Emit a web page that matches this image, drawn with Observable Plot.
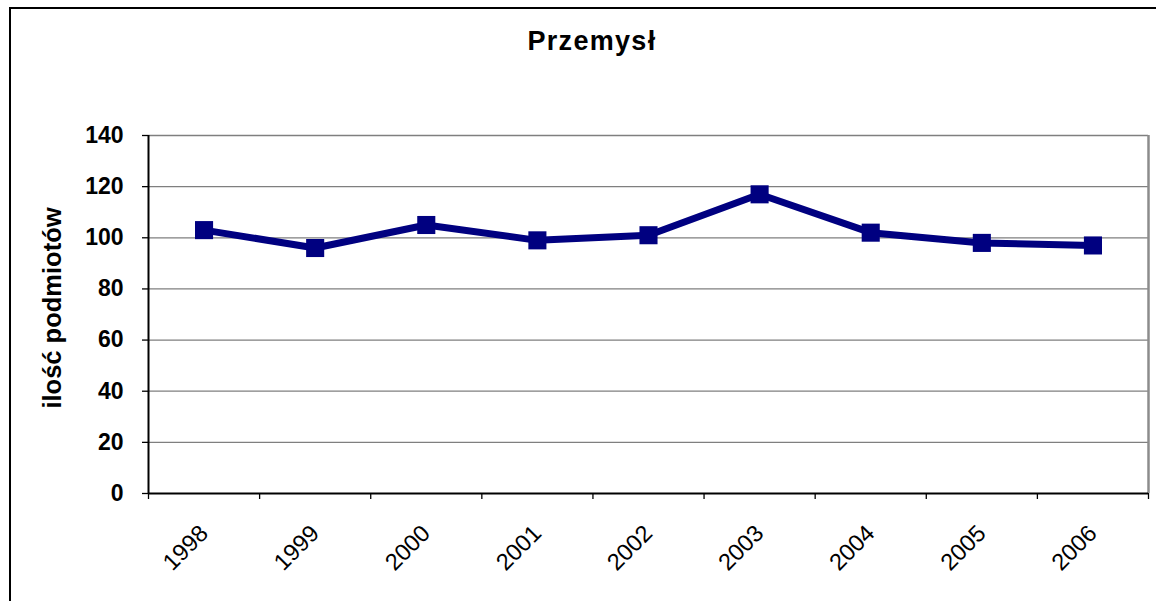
<!DOCTYPE html>
<html>
<head>
<meta charset="utf-8">
<script src="https://cdn.jsdelivr.net/npm/d3@7"></script>
<script src="https://cdn.jsdelivr.net/npm/@observablehq/plot@0.6"></script>
<style>
  html, body { margin: 0; padding: 0; background: #fff; }
  #wrap { position: relative; width: 1156px; height: 601px; overflow: hidden; font-family: "Liberation Sans", Arial, sans-serif; }
  #border { position: absolute; left: 9px; top: 7px; width: 1300px; height: 800px; border-left: 2px solid #000; border-top: 2px solid #000; box-sizing: border-box; }
  #title { position: relative; height: 100px; }
  #title span { position: absolute; left: 592px; top: 28px; transform: translateX(-50%); font-weight: bold; font-size: 27px; line-height: 27px; letter-spacing: 1.3px; white-space: nowrap; }
  #chart { position: relative; }
  svg { overflow: visible; }
</style>
</head>
<body>
<div id="wrap">
  <div id="border"></div>
  <div id="title"><span id="titleText"></span></div>
  <div id="chart"></div>
</div>
<script>
const title = "Przemysł";
const yLabel = "ilość podmiotów";
const years = ["1998", "1999", "2000", "2001", "2002", "2003", "2004", "2005", "2006"];
const values = [103, 96, 105, 99, 101, 117, 102, 98, 97];
const yTicks = [0, 20, 40, 60, 80, 100, 120, 140];

document.getElementById("titleText").textContent = title;

const data = years.map((year, i) => ({year, i, value: values[i]}));
const centers = years.map((_, i) => i + 0.5);
const bounds = d3.range(years.length + 1);
const yMax = yTicks[yTicks.length - 1];

const plot = Plot.plot({
  width: 1156,
  height: 501,
  marginTop: 35,
  marginBottom: 108,
  marginLeft: 148,
  marginRight: 8,
  style: {fontFamily: "'Liberation Sans', Arial, sans-serif", background: "transparent", overflow: "visible"},
  x: {domain: [0, years.length]},
  y: {domain: [0, yMax]},
  marks: [
    Plot.ruleY(yTicks.filter(t => t > 0), {stroke: "#7f7f7f", strokeWidth: 1.3}),
    Plot.ruleX([years.length], {stroke: "#8c8c8c", strokeWidth: 2.5}),
    Plot.axisY({ticks: yTicks, tickSize: 6, tickPadding: 19, tickFormat: d => String(d), fontSize: 23, fontWeight: "bold", stroke: "#000", strokeWidth: 1.3, color: "#000", label: null}),
    Plot.axisX({ticks: bounds, tickSize: 6, tickFormat: () => "", stroke: "#000", strokeWidth: 1.3, label: null}),
    Plot.axisX({ticks: centers, tickSize: 0, tickPadding: 36, tickRotate: -45, tickFormat: d => years[Math.floor(d)], fontSize: 23.5, color: "#000", label: null}),
    Plot.ruleY([0], {stroke: "#000", strokeWidth: 2}),
    Plot.ruleX([0], {stroke: "#000", strokeWidth: 2}),
    Plot.line(data, {x: d => d.i + 0.5, y: "value", stroke: "#000080", strokeWidth: 7}),
    Plot.dot(data, {x: d => d.i + 0.5, y: "value", symbol: "square", r: 10.2, fill: "#000080", stroke: "none"}),
    Plot.text([yLabel], {frameAnchor: "left", text: d => d, rotate: -90, textAnchor: "middle", dx: -96, dy: -6.5, fontSize: 25.5, fontWeight: "bold", fill: "#000"})
  ]
});
document.getElementById("chart").appendChild(plot);
</script>
</body>
</html>
